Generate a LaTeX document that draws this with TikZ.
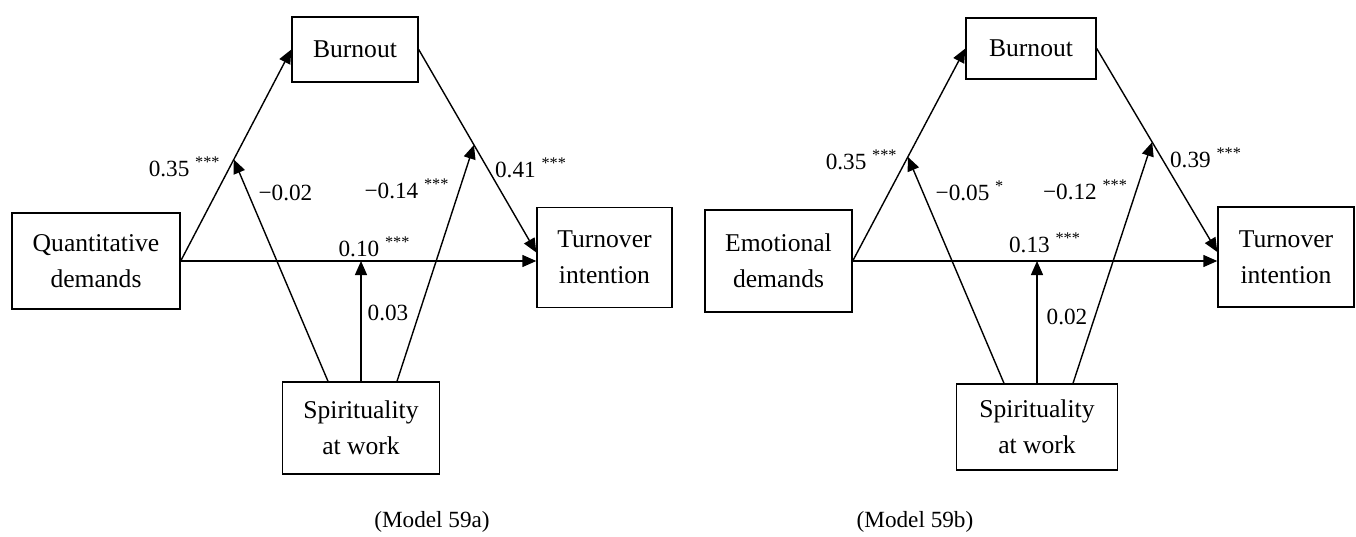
\documentclass[tikz,border=0pt]{standalone}
\usepackage{fontspec}
\setmainfont{Liberation Serif}
\usetikzlibrary{arrows.meta,calc}
\tikzstyle{arrow} = [line width=0.7pt,-{Triangle[length=7pt,width=6pt]}]
\tikzstyle{box} = [draw,line width=0.7pt,align=center,inner sep=0pt,font=\fontsize{12.8}{18}\selectfont]
\tikzstyle{coef} = [inner sep=0pt,font=\fontsize{11.6}{14}\selectfont]
\newcommand\stars[1]{\textsuperscript{#1}}

\begin{document}
\begin{tikzpicture}[x=0.5pt,y=-0.5pt]
\useasboundingbox (0,0) rectangle (1356,536);

% Model 59a
\node[box,minimum width=63pt,minimum height=32.5pt] (burnA) at (355,49.5) {Burnout};
\node[box,minimum width=84pt,minimum height=48pt] (qdA) at (96,261) {Quantitative\\demands};
\node[box,minimum width=67.5pt,minimum height=50pt] (tiA) at (604.5,257.5) {Turnover\\intention};
\node[box,minimum width=78.5pt,minimum height=46pt] (spA) at (361,428) {Spirituality\\at work};

\coordinate (modA1) at ($(qdA.east)!0.48!(burnA.west)$);
\coordinate (modA2) at ($(burnA.east)!0.47!([yshift=2.5pt]tiA.west)$);

\draw [arrow] (qdA.east) -- (burnA.west); % qd-burnout
\draw [arrow] (qdA.east) -- (qdA.east -| tiA.west); % qd-ti
\draw [arrow] (burnA.east) -- ([yshift=2.5pt]tiA.west); % burnout-ti
\draw [arrow] ([xshift=-16.5pt]spA.north) -- (modA1); % sp-path a
\draw [arrow] (spA.north) -- (spA.north |- qdA.east); % sp-path c
\draw [arrow] ([xshift=18pt]spA.north) -- (modA2); % sp-path b

\node [coef,anchor=east] (cA1) at (221,167) {0.35 \stars{***}};
\node [coef] (cA2) at (285.5,193) {−0.02};
\node [coef] (cA3) at (407,189) {−0.14 \stars{***}};
\node [coef] (cA4) at (531,168) {0.41 \stars{***}};
\node [coef] (cA5) at (374.5,247) {0.10 \stars{***}};
\node [coef] (cA6) at (388,313) {0.03};
\node [coef] (capA) at (432,522) {(Model 59a)};

% Model 59b
\node[box,minimum width=65pt,minimum height=30.5pt] (burnB) at (1031,48.5) {Burnout};
\node[box,minimum width=73.5pt,minimum height=51pt] (edB) at (778.5,261) {Emotional\\demands};
\node[box,minimum width=68pt,minimum height=50pt] (tiB) at (1286,257) {Turnover\\intention};
\node[box,minimum width=80.5pt,minimum height=43pt] (spB) at (1037,427) {Spirituality\\at work};

\coordinate (modB1) at ($(edB.east)!0.49!(burnB.west)$);
\coordinate (modB2) at ($(burnB.east)!0.46!([yshift=2.5pt]tiB.west)$);

\draw [arrow] (edB.east) -- (burnB.west); % ed-burnout
\draw [arrow] (edB.east) -- (edB.east -| tiB.west); % ed-ti
\draw [arrow] (burnB.east) -- ([yshift=2.5pt]tiB.west); % burnout-ti
\draw [arrow] ([xshift=-16.5pt]spB.north) -- (modB1); % sp-path a
\draw [arrow] (spB.north) -- (spB.north |- edB.east); % sp-path c
\draw [arrow] ([xshift=18pt]spB.north) -- (modB2); % sp-path b

\node [coef,anchor=east] (cB1) at (898,160) {0.35 \stars{***}};
\node [coef] (cB2) at (970,191) {−0.05 \stars{*}};
\node [coef] (cB3) at (1085.5,190) {−0.12 \stars{***}};
\node [coef] (cB4) at (1206,158) {0.39 \stars{***}};
\node [coef] (cB5) at (1045,243) {0.13 \stars{***}};
\node [coef] (cB6) at (1067,317) {0.02};
\node [coef] (capB) at (915,522) {(Model 59b)};

\end{tikzpicture}
\end{document}
